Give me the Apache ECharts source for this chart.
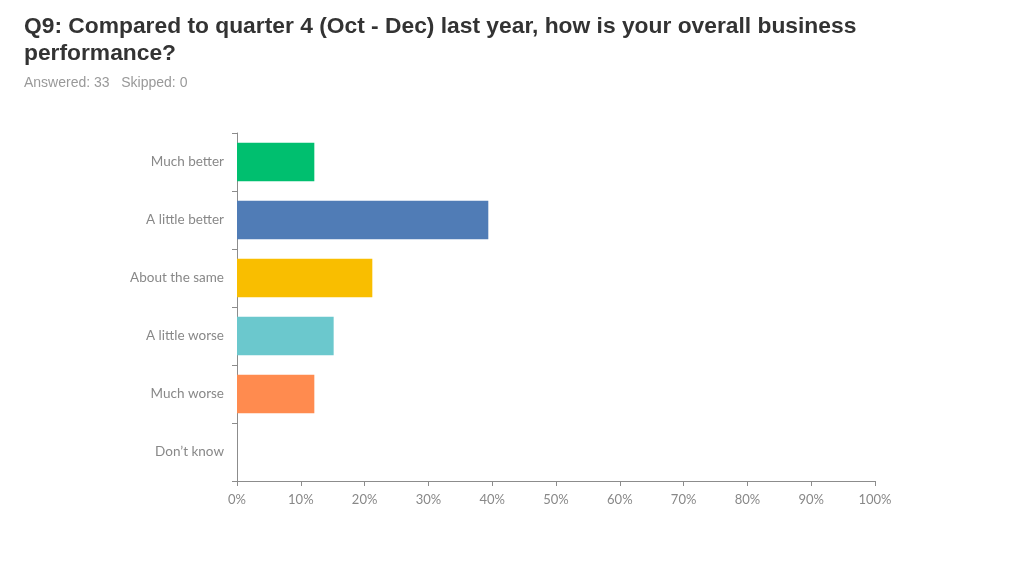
<!DOCTYPE html>
<html>
<head>
<meta charset="utf-8">
<script src="https://cdn.jsdelivr.net/npm/echarts@6/dist/echarts.min.js"></script>
<style>
  html, body { margin: 0; padding: 0; background: #fff; }
  #chart { width: 1024px; height: 576px; }
</style>
</head>
<body>
<div id="chart"></div>
<script>
const categories = ['Much better', 'A little better', 'About the same', 'A little worse', 'Much worse', 'Don\u2019t know'];
const percents = [12.12, 39.39, 21.21, 15.15, 12.12, 0];
const barColors = ['#00BF6F', '#507CB6', '#F9BE00', '#6BC8CD', '#FF8B4F', '#D25F90'];
const xTicks = [0, 10, 20, 30, 40, 50, 60, 70, 80, 90, 100];

const axisGray = '#8c8c8c';
const labelFont = 'Lato, "Open Sans", sans-serif';

const chart = echarts.init(document.getElementById('chart'), null, { renderer: 'canvas' });

chart.setOption({
  animation: false,
  title: [
    {
      text: 'Q9: Compared to quarter 4 (Oct - Dec) last year, how is your overall business\nperformance?',
      left: 19, top: 8,
      textStyle: {
        fontFamily: '"Liberation Sans", Arial, sans-serif',
        fontSize: 22.8, fontWeight: 'bold', color: '#333', lineHeight: 27
      }
    },
    {
      text: 'Answered: 33   Skipped: 0',
      left: 19, top: 71,
      textStyle: {
        fontFamily: '"Liberation Sans", Arial, sans-serif',
        fontSize: 14, fontWeight: 'normal', color: '#999'
      }
    }
  ],
  grid: { left: 237, right: 149, top: 133, bottom: 95, containLabel: false },
  xAxis: {
    type: 'value',
    min: 0, max: 100, interval: 10,
    axisLine: { show: true, lineStyle: { color: axisGray, width: 1 } },
    axisTick: { show: true, length: 5, lineStyle: { color: axisGray } },
    splitLine: { show: false },
    axisLabel: {
      color: '#888', fontSize: 13, fontFamily: labelFont, margin: 12,
      formatter: v => (xTicks.includes(v) ? v + '%' : '')
    }
  },
  yAxis: {
    type: 'category',
    inverse: true,
    data: categories,
    axisLine: { show: true, lineStyle: { color: axisGray, width: 1 } },
    axisTick: { show: true, length: 5, lineStyle: { color: axisGray } },
    axisLabel: { color: '#888', fontSize: 13.5, fontFamily: labelFont, margin: 13 }
  },
  series: [
    {
      type: 'bar',
      barCategoryGap: '34%',
      data: percents.map((v, i) => ({ value: v, itemStyle: { color: barColors[i] } }))
    }
  ]
});
</script>
</body>
</html>
